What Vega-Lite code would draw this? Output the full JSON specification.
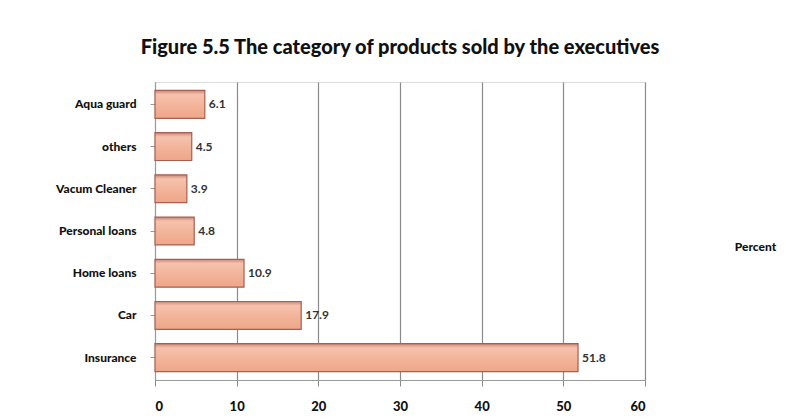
{
  "$schema": "https://vega.github.io/schema/vega-lite/v6.json",
  "autosize": {"type": "none"},
  "width": 490,
  "height": 298,
  "padding": {"left": 155, "top": 82, "right": 141, "bottom": 39},
  "background": "white",
  "title": {
    "text": "Figure 5.5  The category of products sold by the executives",
    "font": "Lato",
    "fontSize": 20,
    "fontWeight": 900,
    "color": "#111111",
    "anchor": "middle",
    "offset": 24
  },
  "data": {
    "values": [
      {"category": "Aqua guard", "percent": 6.1},
      {"category": "others", "percent": 4.5},
      {"category": "Vacum Cleaner", "percent": 3.9},
      {"category": "Personal loans", "percent": 4.8},
      {"category": "Home loans", "percent": 10.9},
      {"category": "Car", "percent": 17.9},
      {"category": "Insurance", "percent": 51.8}
    ]
  },
  "encoding": {
    "y": {
      "field": "category",
      "type": "nominal",
      "sort": null,
      "scale": {"paddingInner": 0.34, "paddingOuter": 0.2},
      "axis": {
        "title": null,
        "labelFont": "Lato",
        "labelFontSize": 12,
        "labelFontWeight": 900,
        "labelColor": "#111111",
        "labelPadding": 14,
        "domainColor": "#999999",
        "tickColor": "#999999",
        "tickSize": 5,
        "grid": false
      }
    },
    "x": {
      "field": "percent",
      "type": "quantitative",
      "scale": {"domain": [0, 60]},
      "axis": {
        "title": "Percent",
        "titleFont": "Lato",
        "titleFontSize": 12,
        "titleFontWeight": 900,
        "titleColor": "#111111",
        "titleX": 600,
        "titleY": -134,
        "titleAlign": "center",
        "titleBaseline": "middle",
        "values": [0, 10, 20, 30, 40, 50, 60],
        "labelFont": "Lato",
        "labelFontSize": 13,
        "labelFontWeight": 900,
        "labelColor": "#111111",
        "labelPadding": 14,
        "tickSize": 6,
        "tickColor": "#888888",
        "domainColor": "#999999",
        "grid": true,
        "gridColor": "#8a8a8a",
        "gridWidth": 1.2
      }
    }
  },
  "layer": [
    {
      "mark": {
        "type": "bar",
        "stroke": "#a85e50",
        "strokeWidth": 1.2,
        "color": {
          "gradient": "linear",
          "x1": 0, "y1": 0, "x2": 0, "y2": 1,
          "stops": [
            {"offset": 0, "color": "#c98876"},
            {"offset": 0.15, "color": "#f6c2ad"},
            {"offset": 0.6, "color": "#f2b297"},
            {"offset": 1, "color": "#eea688"}
          ]
        }
      }
    },
    {
      "mark": {
        "type": "text",
        "align": "left",
        "baseline": "middle",
        "dx": 4,
        "font": "Lato",
        "fontSize": 12,
        "fontWeight": "bold",
        "color": "#333333"
      },
      "encoding": {
        "text": {"field": "percent", "type": "quantitative", "format": ".1f"}
      }
    }
  ]
}
